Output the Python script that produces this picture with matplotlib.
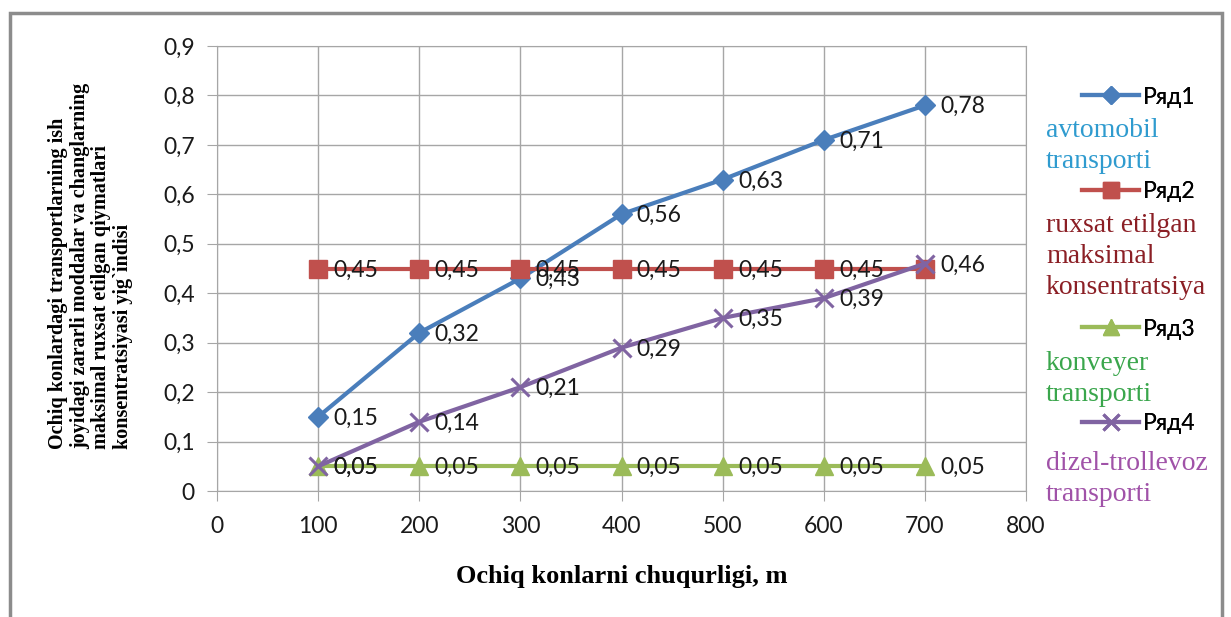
import numpy as np
import matplotlib.pyplot as plt
from matplotlib.lines import Line2D
from matplotlib.patches import Rectangle
from matplotlib.ticker import FuncFormatter

# data
depth = [100, 200, 300, 400, 500, 600, 700]
ryad1 = [0.15, 0.32, 0.43, 0.56, 0.63, 0.71, 0.78]
ryad2 = [0.45, 0.45, 0.45, 0.45, 0.45, 0.45, 0.45]
ryad3 = [0.05, 0.05, 0.05, 0.05, 0.05, 0.05, 0.05]
ryad4 = [0.05, 0.14, 0.21, 0.29, 0.35, 0.39, 0.46]

names = ["Ряд1", "Ряд2", "Ряд3", "Ряд4"]
descr = ["avtomobil\ntransporti",
         "ruxsat etilgan\nmaksimal\nkonsentratsiya",
         "konveyer\ntransporti",
         "dizel-trollevoz\ntransporti"]
descr_colors = ["#2f9bcf", "#8b1f25", "#3aa64c", "#a052a8"]

colors = ["#4a7ebb", "#c0504d", "#9bbb59", "#8064a2"]
markers = ["D", "s", "^", "x"]
msizes = [10, 13, 13, 13]

sans = "Lato"
serif = "Liberation Serif"


def comma(v, pos=None):
    s = f"{v:.2f}".rstrip("0").rstrip(".") if v != 0 else "0"
    return s.replace(".", ",")


fig = plt.figure(figsize=(12.31, 6.17), dpi=100)
ax = fig.add_axes([0.1763, 0.2042, 0.6572, 0.7212])

series = [ryad1, ryad2, ryad3, ryad4]
for i, ys in enumerate(series):
    ax.plot(depth, ys, color=colors[i], lw=3, marker=markers[i],
            markersize=msizes[i], mew=2.2 if markers[i] == "x" else 1,
            mec=colors[i], mfc=colors[i], zorder=3 + i)
    for j, (x, y) in enumerate(zip(depth, ys)):
        # last Ряд2 label sits under Ряд4's label in the original
        if i == 1 and j == len(depth) - 1:
            continue
        ax.annotate(comma(y), (x, y), xytext=(11, -1), textcoords="offset points",
                    va="center", ha="left", fontsize=16.5, family=sans,
                    color="#1a1a1a", zorder=10)

ax.set_xlim(0, 800)
ax.set_ylim(0, 0.9)
ax.set_xticks(np.arange(0, 801, 100))
ax.set_yticks(np.arange(0, 0.91, 0.1))
ax.yaxis.set_major_formatter(FuncFormatter(comma))
ax.grid(True, color="#a6a6a6", lw=1)
ax.set_axisbelow(True)
for s in ax.spines.values():
    s.set_color("#a6a6a6")
ax.tick_params(axis="both", length=7, color="#a6a6a6", labelsize=16.5)
ax.tick_params(axis="y", pad=9)
ax.tick_params(axis="x", pad=11)
for lab in ax.get_xticklabels() + ax.get_yticklabels():
    lab.set_family(sans)
    lab.set_color("#1a1a1a")

ax.set_xlabel("Ochiq konlarni chuqurligi, m", family=serif, weight="bold",
              fontsize=19, labelpad=20)

fig.text(0.0735, 0.272,
         "Ochiq konlardagi transportlarning ish\n"
         "joyidagi zararli moddalar va changlarning\n"
         "maksimal ruxsat etilgan qiymatlari\n"
         "konsentratsiyasi yig`indisi",
         rotation=90, ha="center", va="bottom", multialignment="left",
         family=serif, weight="bold", fontsize=14.5, linespacing=1.1)

# legend
leg_y = [97, 192, 329, 424]
desc_y = [118, 213, 351, 451]
for i in range(4):
    h = Line2D([], [], color=colors[i], lw=3, marker=markers[i],
               markersize=msizes[i] - 1, mew=2.2 if markers[i] == "x" else 1,
               mec=colors[i], mfc=colors[i])
    lg = fig.legend([h], [names[i]], loc="center left",
                    bbox_to_anchor=(1082 / 1231, 1 - leg_y[i] / 617),
                    frameon=False, borderpad=0, borderaxespad=0,
                    handlelength=2.5, handletextpad=0.15,
                    prop={"family": sans, "size": 16.5})
    fig.add_artist(lg)
    fig.text(1046 / 1231, 1 - desc_y[i] / 617, descr[i], color=descr_colors[i],
             family=serif, fontsize=20, va="top", ha="left",
             multialignment="left", linespacing=1.32)

# outer frame
fig.add_artist(Rectangle((10 / 1231, -0.05), 1212 / 1231, 1.05 - 13 / 617,
                         transform=fig.transFigure, fill=False,
                         ec="#8c8c8c", lw=2.5))

fig.savefig("out.png", dpi=100)
